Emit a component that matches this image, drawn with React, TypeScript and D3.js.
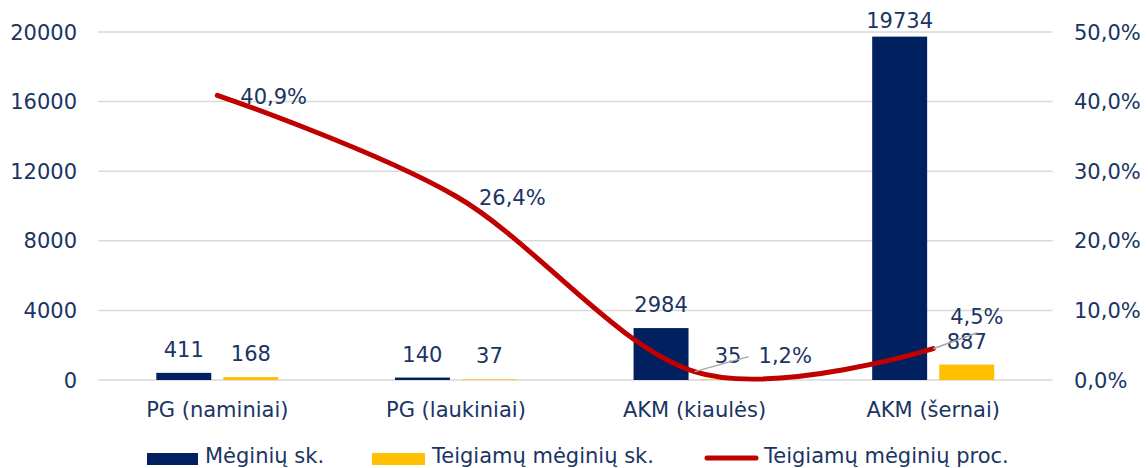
import React from "react";
import * as d3 from "d3";

const categories = ["PG (naminiai)", "PG (laukiniai)", "AKM (kiaulės)", "AKM (šernai)"];
const seriesNames = ["Mėginių sk.", "Teigiamų mėginių sk.", "Teigiamų mėginių proc."];
const samples = [411, 140, 2984, 19734];
const positives = [168, 37, 35, 887];
const positivePct = [0.409, 0.264, 0.012, 0.045];
const leftTicks = [0, 4000, 8000, 12000, 16000, 20000];
const rightTicks = [0, 0.1, 0.2, 0.3, 0.4, 0.5];

// layout-only: label offsets for the percentage labels (dx, dy from point), leader line end offsets
const pctLabelOffsets = [
  { dx: 23, dy: 8.5, leader: null as null | [number, number] },
  { dx: 23, dy: 8.5, leader: null as null | [number, number] },
  { dx: 64, dy: -8.6, leader: [54, -15] as [number, number] },
  { dx: 17, dy: -24.7, leader: [44, -16] as [number, number] },
];

const W = 1148;
const H = 468;
const FONT = "'DejaVu Sans', Verdana, sans-serif";
const TXT = "#1A3463";
const NAVY = "#002060";
const GOLD = "#FFC000";
const RED = "#C00000";

export default function App() {
  const x = d3.scaleBand<string>().domain(categories).range([98, 1052.5]).padding(0);
  const x1 = d3.scaleBand<string>().domain(["a", "b"]).range([-61, 61]).paddingInner(0.18);
  const yL = d3.scaleLinear().domain([0, 20000]).range([380, 32]);
  const yR = d3.scaleLinear().domain([0, 0.5]).range([380, 32]);
  const cx = (c: string) => (x(c) as number) + x.bandwidth() / 2;
  const fmtPct = (v: number) => (v * 100).toFixed(1).replace(".", ",") + "%";

  const pts: [number, number][] = categories.map((c, i) => [cx(c), yR(positivePct[i])]);
  const linePath = d3.line().curve(d3.curveCardinal.tension(0))(pts) || "";

  const barSeries = [
    { key: "a", values: samples, color: NAVY },
    { key: "b", values: positives, color: GOLD },
  ];

  return (
    <svg width={W} height={H} style={{ position: "absolute", left: 0, top: 0, background: "#fff" }} fontFamily={FONT}>
      {leftTicks.map((t) => (
        <line key={"g" + t} x1={98} x2={1052.5} y1={yL(t)} y2={yL(t)} stroke="#D9D9D9" strokeWidth={1.5} />
      ))}
      {leftTicks.map((t) => (
        <text key={"l" + t} x={77} y={yL(t) + 7.5} textAnchor="end" fontSize={21} fill={TXT}>
          {t}
        </text>
      ))}
      {rightTicks.map((t) => (
        <text key={"r" + t} x={1074} y={yR(t) + 7.5} textAnchor="start" fontSize={21} fill={TXT}>
          {fmtPct(t)}
        </text>
      ))}
      {barSeries.map((s) =>
        categories.map((c, i) => {
          const bx = cx(c) + (x1(s.key) as number);
          const top = yL(s.values[i]);
          return (
            <rect key={s.key + c} x={bx} y={top} width={x1.bandwidth()} height={yL(0) - top} fill={s.color} />
          );
        })
      )}
      {barSeries.map((s) =>
        categories.map((c, i) => {
          const bx = cx(c) + (x1(s.key) as number) + x1.bandwidth() / 2;
          const top = yL(s.values[i]);
          return (
            <text key={"t" + s.key + c} x={bx} y={Math.max(top - 16, 28)} textAnchor="middle" fontSize={21} fill={TXT}>
              {s.values[i]}
            </text>
          );
        })
      )}
      <path d={linePath} fill="none" stroke={RED} strokeWidth={5} strokeLinecap="round" strokeLinejoin="round" />
      {pts.map((p, i) => {
        const o = pctLabelOffsets[i];
        if (!o.leader) return null;
        return (
          <line key={"ld" + i} x1={p[0]} y1={p[1]} x2={p[0] + o.leader[0]} y2={p[1] + o.leader[1]} stroke="#A6A6A6" strokeWidth={1.5} />
        );
      })}
      {pts.map((p, i) => (
        <text key={"p" + i} x={p[0] + pctLabelOffsets[i].dx} y={p[1] + pctLabelOffsets[i].dy} fontSize={21} fill={TXT}>
          {fmtPct(positivePct[i])}
        </text>
      ))}
      {categories.map((c) => (
        <text key={"x" + c} x={cx(c)} y={417} textAnchor="middle" fontSize={21} fill={TXT}>
          {c}
        </text>
      ))}
      <g>
        <rect x={147} y={453} width={51} height={12} fill={NAVY} />
        <text x={205} y={463} fontSize={21} fill={TXT}>{seriesNames[0]}</text>
        <rect x={372} y={453} width={53} height={12} fill={GOLD} />
        <text x={432} y={463} fontSize={21} fill={TXT}>{seriesNames[1]}</text>
        <line x1={707} x2={756} y1={458} y2={458} stroke={RED} strokeWidth={5} strokeLinecap="round" />
        <text x={764} y={463} fontSize={21} fill={TXT}>{seriesNames[2]}</text>
      </g>
    </svg>
  );
}
